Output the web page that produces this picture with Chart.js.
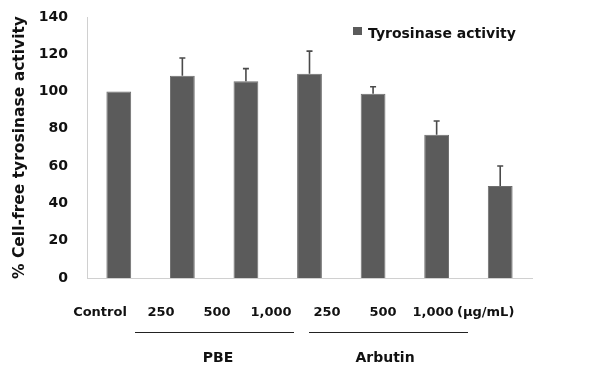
<!DOCTYPE html>
<html>
<head>
<meta charset="utf-8">
<script src="https://cdn.jsdelivr.net/npm/chart.js@4"></script>
<style>
  html, body { margin: 0; padding: 0; background: #fff; }
  #wrap { width: 595px; height: 369px; }
</style>
</head>
<body>
<div id="wrap"><canvas id="grafico" width="595" height="369"></canvas></div>
<script>
// dados
const categorias = ['Control', '250', '500', '1,000', '250', '500', '1,000'];
const atividade = [100, 108.5, 105.5, 109.5, 98.8, 76.8, 49.3];
const erro = [0, 9.5, 6.8, 12.2, 3.8, 7.4, 10.8];
const grupos = ['PBE', 'Arbutin'];
const unidade = '(\u00b5g/mL)';
const ticksY = [0, 20, 40, 60, 80, 100, 120, 140];

const fonte = "'DejaVu Sans', sans-serif";
const corBarra = '#5b5b5b';

// barras de erro (so para cima)
const errorBars = {
  id: 'errorBars',
  afterDatasetsDraw(chart) {
    const ctx = chart.ctx;
    const y = chart.scales.y;
    const meta = chart.getDatasetMeta(0);
    ctx.save();
    ctx.strokeStyle = '#4a4a4a';
    ctx.lineWidth = 1.6;
    meta.data.forEach((bar, i) => {
      if (!erro[i]) return;
      const topo = y.getPixelForValue(atividade[i] + erro[i]);
      ctx.beginPath();
      ctx.moveTo(bar.x, bar.y);
      ctx.lineTo(bar.x, topo);
      ctx.moveTo(bar.x - 3, topo);
      ctx.lineTo(bar.x + 3, topo);
      ctx.stroke();
    });
    ctx.restore();
  }
};

// rotulos do eixo x, grupos e legenda
const rotulos = {
  id: 'rotulos',
  afterDraw(chart) {
    const ctx = chart.ctx;
    ctx.save();
    ctx.fillStyle = '#111';
    ctx.textBaseline = 'middle';
    ctx.textAlign = 'center';
    ctx.font = 'bold 13px ' + fonte;
    const xs = [100, 161, 217, 271, 327, 383, 433];
    categorias.forEach((c, i) => ctx.fillText(c, xs[i], 313));
    ctx.textAlign = 'left';
    ctx.fillText(unidade, 457, 313);

    // linhas dos grupos
    ctx.strokeStyle = '#222';
    ctx.lineWidth = 1;
    ctx.beginPath();
    ctx.moveTo(135, 332.5); ctx.lineTo(294, 332.5);
    ctx.moveTo(309, 332.5); ctx.lineTo(468, 332.5);
    ctx.stroke();

    ctx.textAlign = 'center';
    ctx.font = 'bold 14px ' + fonte;
    ctx.fillText(grupos[0], 218, 358);
    ctx.fillText(grupos[1], 385, 358);

    // legenda
    ctx.fillStyle = corBarra;
    ctx.fillRect(353, 27, 9, 8);
    ctx.fillStyle = '#111';
    ctx.textAlign = 'left';
    ctx.font = 'bold 14px ' + fonte;
    ctx.fillText(chart.data.datasets[0].label, 368, 34);
    ctx.restore();
  }
};

new Chart(document.getElementById('grafico'), {
  type: 'bar',
  data: {
    labels: categorias,
    datasets: [{
      label: 'Tyrosinase activity',
      data: atividade,
      backgroundColor: corBarra,
      borderColor: '#6e6e6e',
      borderWidth: 1,
      barPercentage: 0.39,
      categoryPercentage: 1
    }]
  },
  options: {
    responsive: false,
    animation: false,
    layout: { padding: { top: 17, right: 63, bottom: 0, left: 0 } },
    plugins: { legend: { display: false }, tooltip: { enabled: false } },
    scales: {
      x: {
        grid: { display: false, drawTicks: false },
        border: { color: '#d0d0d0', width: 1 },
        ticks: { display: false },
        afterFit: (s) => { s.height = 369 - 278; s.paddingLeft = 0; s.paddingRight = 0; }
      },
      y: {
        min: 0,
        max: 140,
        afterBuildTicks: (s) => { s.ticks = ticksY.map(v => ({ value: v })); },
        grid: { display: false, drawTicks: false },
        border: { color: '#d0d0d0', width: 1 },
        ticks: {
          padding: 19,
          color: '#111',
          font: { family: fonte, size: 14, weight: 'bold' }
        },
        title: {
          display: true,
          text: '% Cell-free tyrosinase activity',
          color: '#111',
          padding: { top: 11, bottom: 4 },
          font: { family: fonte, size: 15.5, weight: 'bold' }
        },
        afterFit: (s) => { s.width = 87; s.paddingTop = 0; s.paddingBottom = 0; }
      }
    }
  },
  plugins: [errorBars, rotulos]
});
</script>
</body>
</html>
